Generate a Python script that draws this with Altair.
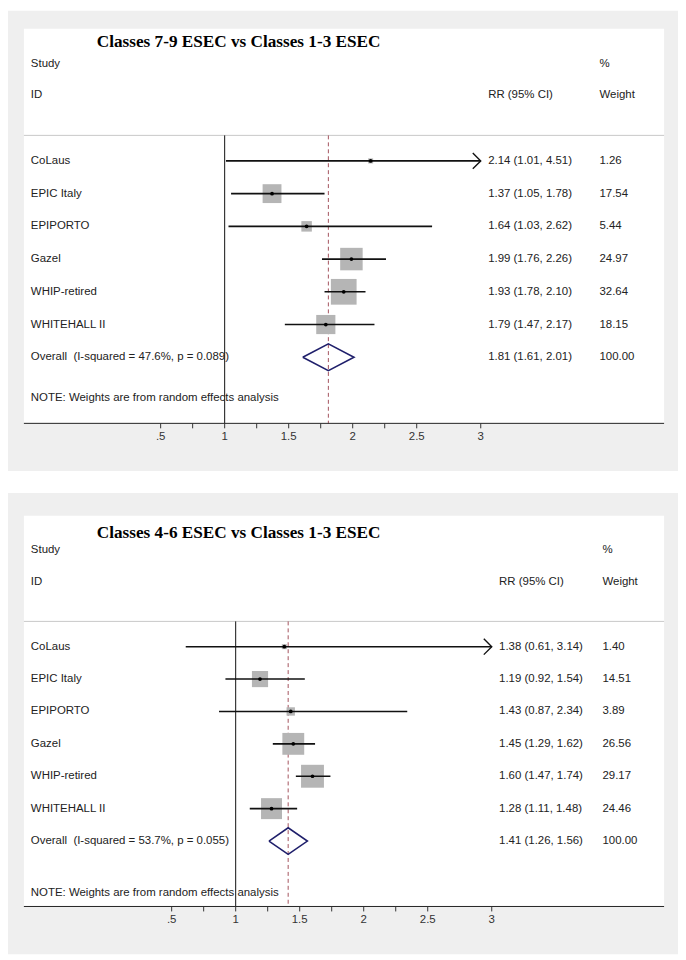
import altair as alt
import pandas as pd

# ---------------- data ----------------
studies = ["CoLaus", "EPIC Italy", "EPIPORTO", "Gazel", "WHIP-retired", "WHITEHALL II"]

p1_title = "Classes 7-9 ESEC vs Classes 1-3 ESEC"
p1_rr = [2.14, 1.37, 1.64, 1.99, 1.93, 1.79]
p1_lo = [1.01, 1.05, 1.03, 1.76, 1.78, 1.47]
p1_hi = [4.51, 1.78, 2.62, 2.26, 2.10, 2.17]
p1_w = [1.26, 17.54, 5.44, 24.97, 32.64, 18.15]
p1_overall = [1.81, 1.61, 2.01]
p1_i2, p1_p = "47.6", "0.089"

p2_title = "Classes 4-6 ESEC vs Classes 1-3 ESEC"
p2_rr = [1.38, 1.19, 1.43, 1.45, 1.60, 1.28]
p2_lo = [0.61, 0.92, 0.87, 1.29, 1.47, 1.11]
p2_hi = [3.14, 1.54, 2.34, 1.62, 1.74, 1.48]
p2_w = [1.40, 14.51, 3.89, 26.56, 29.17, 24.46]
p2_overall = [1.41, 1.26, 1.56]
p2_i2, p2_p = "53.7", "0.055"

tick_values = [0.5, 0.75, 1, 1.25, 1.5, 1.75, 2, 2.25, 2.5, 3]
label_values = [0.5, 1, 1.5, 2, 2.5, 3]
tick_labels = [".5", "1", "1.5", "2", "2.5", "3"]
x_max_shown = 3

FONT = "Liberation Sans"
FS = 11.5
TXT = "#222222"


def txt(s, x, row, yscale, **kw):
    d = pd.DataFrame({"t": [s], "r": [row]})
    base = dict(font=FONT, fontSize=FS, color=TXT, align="left", baseline="middle")
    base.update(kw)
    return alt.Chart(d).mark_text(**base).encode(
        x=alt.value(x), y=alt.Y("r:Q", scale=yscale, axis=None), text="t:N"
    )


def panel(title, rr, lo, hi, w, ov, i2, pval, W, H, xdom, rr_x, w_x,
          title_row, note_row, k, grey_top):
    df = pd.DataFrame({"study": studies, "rr": rr, "lo": lo, "hi": hi, "w": w,
                       "row": list(range(len(studies)))})
    df["hi_c"] = df["hi"].clip(upper=x_max_shown)
    df["ci"] = [f"{a:.2f} ({b:.2f}, {c:.2f})" for a, b, c in zip(rr, lo, hi)]
    df["wt"] = [f"{v:.2f}" for v in w]
    df["sz"] = df["w"] * k
    arrows = df[df["hi"] > x_max_shown].copy()
    arrows["xa"] = x_max_shown

    orow = len(studies)
    odf = pd.DataFrame({"rr": [ov[0]], "lo": [ov[1]], "hi": [ov[2]], "row": [orow],
                        "label": [f"Overall\u00a0 (I-squared = {i2}%, p = {pval})"],
                        "ci": [f"{ov[0]:.2f} ({ov[1]:.2f}, {ov[2]:.2f})"],
                        "wt": ["100.00"]})
    h = 0.41
    dia = pd.DataFrame({"x": [ov[1], ov[0], ov[2], ov[0], ov[1]],
                        "y": [orow, orow - h, orow, orow + h, orow],
                        "o": [0, 1, 2, 3, 4]})
    nulldf = pd.DataFrame({"x": [1.0], "top": [-0.78]})
    odf["top"] = -0.78
    ticks = pd.DataFrame({"v": tick_values})
    labels = pd.DataFrame({"v": label_values, "t": tick_labels})

    yscale = alt.Scale(domain=[-4.04, 8.02], reverse=True, nice=False, zero=False)
    xscale = alt.Scale(domain=xdom, nice=False, zero=False)

    one = pd.DataFrame({"a": [0]})
    grey = alt.Chart(one).mark_rect(color="#efefef").encode(
        x=alt.value(-16), x2=alt.value(W + 14), y=alt.value(-grey_top), y2=alt.value(H + 48))
    white = alt.Chart(one).mark_rect(color="white").encode(
        x=alt.value(0), x2=alt.value(W), y=alt.value(0), y2=alt.value(H))
    hline = alt.Chart(nulldf).mark_rule(color="#c8c8c8", strokeWidth=1).encode(
        x=alt.value(0), x2=alt.value(W), y=alt.Y("top:Q", scale=yscale, axis=None))
    nullline = alt.Chart(nulldf).mark_rule(color="#111111", strokeWidth=1).encode(
        x=alt.X("x:Q", scale=xscale, axis=None),
        y=alt.Y("top:Q", scale=yscale, axis=None), y2=alt.value(H))
    ovline = alt.Chart(odf).mark_rule(color="#a4545e", strokeWidth=1, strokeDash=[4, 3]).encode(
        x=alt.X("rr:Q", scale=xscale, axis=None),
        y=alt.Y("top:Q", scale=yscale, axis=None), y2=alt.value(H))
    # axis drawn from the tick arrays
    domain = alt.Chart(one).mark_rule(color="#222222", strokeWidth=1).encode(
        x=alt.value(0), x2=alt.value(W), y=alt.value(H))
    tk = alt.Chart(ticks).mark_rule(color="#333333", strokeWidth=1).encode(
        x=alt.X("v:Q", scale=xscale, axis=None), y=alt.value(H), y2=alt.value(H + 5))
    tl = alt.Chart(labels).mark_text(font=FONT, fontSize=FS, color="#333333",
                                     align="center", baseline="middle").encode(
        x=alt.X("v:Q", scale=xscale, axis=None), y=alt.value(H + 14), text="t:N")

    boxes = alt.Chart(df).mark_square(color="#b5b5b5", opacity=1, filled=True).encode(
        x=alt.X("rr:Q", scale=xscale, axis=None),
        y=alt.Y("row:Q", scale=yscale, axis=None),
        size=alt.Size("sz:Q", scale=None, legend=None))
    cis = alt.Chart(df).mark_rule(color="#111111", strokeWidth=1.6).encode(
        x=alt.X("lo:Q", scale=xscale, axis=None), x2="hi_c:Q",
        y=alt.Y("row:Q", scale=yscale, axis=None))
    arr = alt.Chart(arrows).mark_point(shape="M-1,-1L0,0L-1,1", size=256, filled=False,
                                       color="#111111", strokeWidth=1.4, opacity=1).encode(
        x=alt.X("xa:Q", scale=xscale, axis=None),
        y=alt.Y("row:Q", scale=yscale, axis=None))
    dots = alt.Chart(df).mark_point(shape="circle", size=14, filled=True,
                                    color="#000000", opacity=1).encode(
        x=alt.X("rr:Q", scale=xscale, axis=None),
        y=alt.Y("row:Q", scale=yscale, axis=None))
    diamond = alt.Chart(dia).mark_line(color="#1f1f6b", strokeWidth=1.6).encode(
        x=alt.X("x:Q", scale=xscale, axis=None),
        y=alt.Y("y:Q", scale=yscale, axis=None), order="o:Q")

    def coltext(data, x, field):
        return alt.Chart(data).mark_text(font=FONT, fontSize=FS, color=TXT, align="left",
                                         baseline="middle").encode(
            x=alt.value(x), y=alt.Y("row:Q", scale=yscale, axis=None), text=f"{field}:N")

    texts = [coltext(df, 7, "study"), coltext(df, rr_x, "ci"), coltext(df, w_x, "wt"),
             coltext(odf, 7, "label"), coltext(odf, rr_x, "ci"), coltext(odf, w_x, "wt")]

    heads = [
        txt(title, 216, title_row, yscale, font="Liberation Serif", fontWeight="bold",
            fontSize=17.3, align="center", color="#000000"),
        txt("Study", 7, -2.97, yscale),
        txt("ID", 7, -2.0, yscale),
        txt("RR (95% CI)", rr_x, -2.0, yscale),
        txt("%", w_x, -2.97, yscale),
        txt("Weight", w_x, -2.0, yscale),
        txt("NOTE: Weights are from random effects analysis", 7, note_row, yscale),
    ]

    return alt.layer(grey, white, hline, nullline, ovline, domain, tk, tl, boxes, cis, arr,
                     dots, diamond, *texts, *heads).properties(width=W, height=H)


top = panel(p1_title, p1_rr, p1_lo, p1_hi, p1_w, p1_overall, p1_i2, p1_p,
            W=644, H=397, xdom=[-0.568, 4.432], rr_x=467, w_x=579,
            title_row=-3.62, note_row=7.24, k=20.5, grey_top=18)
bottom = panel(p2_title, p2_rr, p2_lo, p2_hi, p2_w, p2_overall, p2_i2, p2_p,
               W=644, H=393, xdom=[-0.654, 4.346], rr_x=478, w_x=582,
               title_row=-3.5, note_row=7.6, k=18.2, grey_top=23)

chart = alt.vconcat(top, bottom, spacing=22).resolve_scale(x="independent", y="independent").configure(
    padding=0, background="white"
).configure_view(stroke=None)

chart.save("out.html", embed_options={"renderer": "svg", "actions": False})
